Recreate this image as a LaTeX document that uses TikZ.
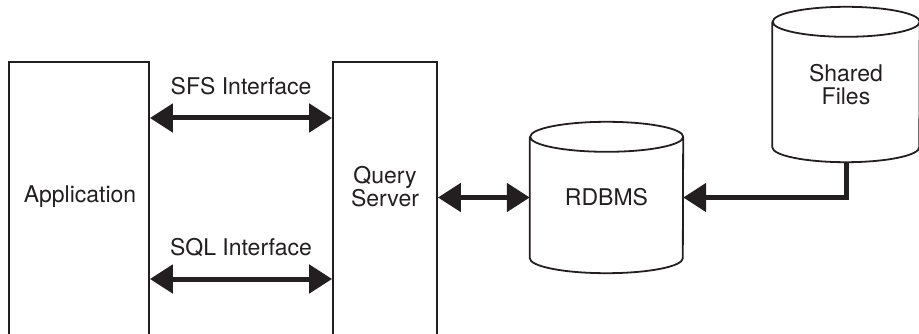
\documentclass[tikz,border=0pt]{standalone}
\usepackage{fontspec}
\setmainfont{TeX Gyre Heros}
\usetikzlibrary{arrows.meta}
\definecolor{ink}{RGB}{35,31,32}

% outline of a drum drawn round a named node: #1 node, #2 x radius, #3 y radius
\newcommand{\drum}[3]{%
  \draw[wall] ([yshift=-#3]#1.north west) -- ([yshift=#3]#1.south west)
    arc[start angle=180, end angle=360, x radius=#2, y radius=#3]
    -- ([yshift=-#3]#1.north east)
    arc[start angle=0, end angle=360, x radius=#2, y radius=#3];}

\tikzset{
  lbl/.style={font=\fontsize{23}{23}\selectfont, text=ink},
  txt/.style={lbl, align=center},
  box/.style={draw=ink, line width=1.8pt, inner sep=0pt},
  wall/.style={draw=ink, line width=1.8pt},
  tip/.tip={Triangle[length=23pt, width=28pt]},
  link/.style={draw=ink, line width=5pt},
}

\begin{document}
\begin{tikzpicture}[x=1pt, y=1pt]
		\useasboundingbox (0,0) rectangle (919,-334);
		% boxes, open below the frame
		\node[box, minimum width=140pt, minimum height=300pt, anchor=north] (app) at (79,-61) {};
		\node[box, minimum width=104pt, minimum height=300pt, anchor=north] (qs) at (385,-61) {};
		\node[lbl] (apptxt) at (80,-197) {Application};
		\node[txt] (qstxt) at (385,-187) {Query\\Server};
		% drums
		\node[lbl, minimum width=153pt, minimum height=151pt] (rdbms) at (606.5,-197.5) {RDBMS};
		\drum{rdbms}{76.5pt}{15pt}
		\node[txt, minimum width=147pt, minimum height=155pt] (shared) at (846,-84.5) {Shared\\Files};
		\drum{shared}{73.5pt}{15pt}
		% interfaces
		\draw[link, tip-tip] (app.east |- 0,-118) -- node[lbl, inner sep=0pt, above=21pt] (sfs) {SFS Interface} (qs.west |- 0,-118);
		\draw[link, tip-tip] (app.east |- 0,-279) -- node[lbl, inner sep=0pt, above=20pt] (sql) {SQL Interface} (qs.west |- 0,-279);
		\draw[link, tip-tip] (qs.east |- rdbms.west) -- (rdbms.west);
		\draw[link, -tip] (shared.south) |- (rdbms.east);
	\end{tikzpicture}
\end{document}
